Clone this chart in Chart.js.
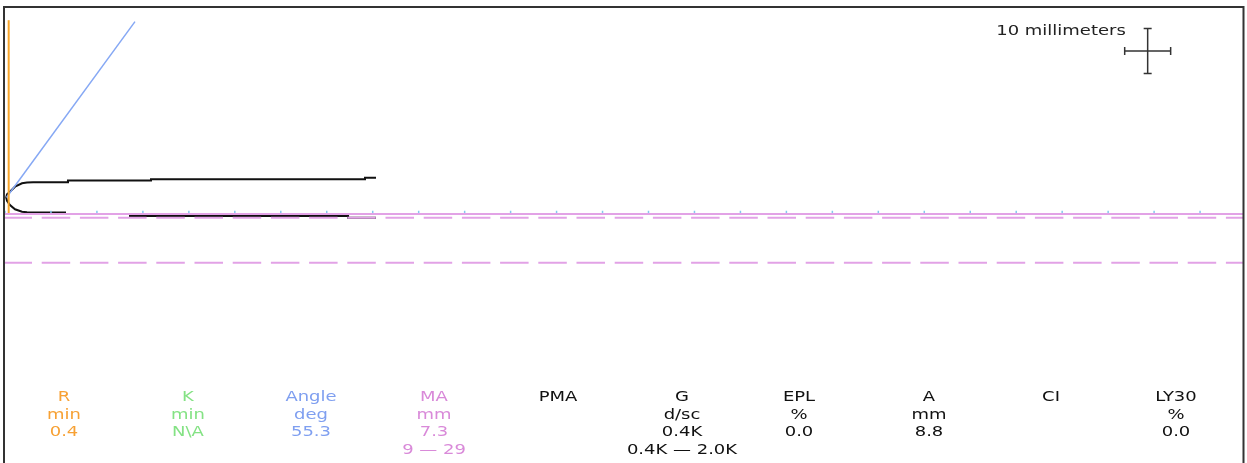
<!DOCTYPE html>
<html lang="en">
<head>
<meta charset="UTF-8">
<title>TEG tracing</title>
<script src="https://cdn.jsdelivr.net/npm/chart.js"></script>
<style>
  html, body { margin: 0; padding: 0; background: #fff; overflow: hidden; }
  canvas { display: block; }
</style>
</head>
<body>
<canvas id="canvas" width="1247" height="463"></canvas>
<script>
// trace (time in min, amplitude in mm, + up / - down from centre)
const traceTime = [40.36, 39.16, 39.16, 15.88, 15.88, 6.85, 6.85, 3.05, 2.39, 1.85, 1.09, 0.54, 0.22, 0.13,
                   0.22, 0.54, 1.09, 1.85, 2.39, 3.05, 6.53, 6.53, 13.6, 13.6, 37.32, 37.32, 40.36];
const traceAmp  = [4.40, 4.40, 4.07, 4.07, 3.78, 3.78, 3.38, 3.38, 3.32, 3.16, 2.40, 1.29, 0.70, 0,
                   -0.75, -1.67, -2.62, -3.16, -3.30, -3.36, -3.36, -3.67, -3.67, -4.11, -4.11, -4.49, -4.49];

// angle line
const angleTime = [0.16, 14.14];
const angleAmp = [0, 39.07];

// R marker
const rValue = 0.4;
const rTop = 39.4;

// MA and its normal range
const maValue = 7.3;
const maRange = [9, 29];

// time ticks (min)
const tickTimes = [0, 5, 10, 15, 20, 25, 30, 35, 40, 45, 50, 55, 60, 65, 70, 75, 80, 85, 90, 95,
                   100, 105, 110, 115, 120, 125, 130];

const timeMax = 134.67;
const ampMin = -59.0;
const ampMax = 42.33;

// scale bar: 10 mm each way
const barCentre = [124.3, 32.56];
const barMm = 10;
const barLabel = '10 millimeters';

// parameter table
const paramNames  = ['R', 'K', 'Angle', 'MA', 'PMA', 'G', 'EPL', 'A', 'CI', 'LY30'];
const paramUnits  = ['min', 'min', 'deg', 'mm', '', 'd/sc', '%', 'mm', '', '%'];
const paramValues = ['0.4', 'N\\A', '55.3', '7.3', '', '0.4K', '0.0', '8.8', '', '0.0'];
const paramRanges = ['', '', '', '9 \u2014 29', '', '0.4K \u2014 2.0K', '', '', '', ''];
const paramColors = ['#f7a134', '#84e284', '#7f9ff0', '#d98ad9', '#111', '#111', '#111', '#111', '#111', '#111'];
const colX = [64, 188, 311, 434, 558, 682, 799, 929, 1051, 1176];

const pink = '#e2a2e6';

function pts(xs, ys) {
    return xs.map((x, i) => ({ x: x, y: ys[i] }));
}

// draws text stretched sideways, like the wide printer font of the original
function wideText(ctx, txt, x, y, color) {
    ctx.save();
    ctx.translate(x, y);
    ctx.scale(1.24, 1);
    ctx.fillStyle = color;
    ctx.font = '14.5px "DejaVu Sans"';
    ctx.textAlign = 'center';
    ctx.textBaseline = 'middle';
    ctx.fillText(txt, 0, 0);
    ctx.restore();
}

const extras = {
    id: 'extras',
    afterDraw(chart) {
        const ctx = chart.ctx;
        const xs = chart.scales.x, ys = chart.scales.y;

        // frame (left, top, right)
        ctx.save();
        ctx.strokeStyle = '#333';
        ctx.lineWidth = 2;
        ctx.beginPath();
        ctx.moveTo(4, 463);
        ctx.lineTo(4, 7);
        ctx.lineTo(1243.5, 7);
        ctx.lineTo(1243.5, 463);
        ctx.stroke();

        // scale bar
        const cx = xs.getPixelForValue(barCentre[0]);
        const cy = ys.getPixelForValue(barCentre[1]);
        const hx = (xs.getPixelForValue(barCentre[0] + barMm / 4) - xs.getPixelForValue(barCentre[0] - barMm / 4)) / 2;
        const hy = (ys.getPixelForValue(barCentre[1] - barMm / 2) - ys.getPixelForValue(barCentre[1] + barMm / 2)) / 2;
        ctx.strokeStyle = '#333';
        ctx.lineWidth = 1.5;
        ctx.beginPath();
        ctx.moveTo(cx - hx, cy); ctx.lineTo(cx + hx, cy);
        ctx.moveTo(cx, cy - hy); ctx.lineTo(cx, cy + hy);
        ctx.moveTo(cx - hx, cy - 4); ctx.lineTo(cx - hx, cy + 4);
        ctx.moveTo(cx + hx, cy - 4); ctx.lineTo(cx + hx, cy + 4);
        ctx.moveTo(cx - 4, cy - hy); ctx.lineTo(cx + 4, cy - hy);
        ctx.moveTo(cx - 4, cy + hy); ctx.lineTo(cx + 4, cy + hy);
        ctx.stroke();
        ctx.restore();
        wideText(ctx, barLabel, 1061, 31, '#222');

        // parameter table
        const rows = [paramNames, paramUnits, paramValues, paramRanges];
        const rowY = [397, 415, 432.5, 450];
        for (let i = 0; i < paramNames.length; i++) {
            rows.forEach((r, j) => {
                if (r[i]) wideText(ctx, r[i], colX[i], rowY[j], paramColors[i]);
            });
        }
    }
};

const ctx = document.getElementById('canvas').getContext('2d');
const chart = new Chart(ctx, {
    type: 'line',
    data: {
        datasets: [
            {   // MA line
                data: pts([0, timeMax], [-maValue / 2, -maValue / 2]),
                borderColor: pink, borderWidth: 2
            },
            {   // MA range lower limit
                data: pts([0, timeMax], [-maRange[0] / 2, -maRange[0] / 2]),
                borderColor: pink, borderWidth: 2, borderDash: [28.5, 9.7], borderDashOffset: 1.5
            },
            {   // MA range upper limit
                data: pts([0, timeMax], [-maRange[1] / 2, -maRange[1] / 2]),
                borderColor: pink, borderWidth: 2, borderDash: [28.5, 9.7], borderDashOffset: 1.5
            },
            {   // time ticks
                data: pts(tickTimes, tickTimes.map(() => -3.3)),
                showLine: false, pointStyle: 'line', rotation: 90, pointRadius: 1.6,
                pointBorderColor: '#84c8ee', pointBorderWidth: 1.5
            },
            {   // R
                data: pts([rValue, rValue], [-maValue / 2, rTop]),
                borderColor: '#f7a52a', borderWidth: 2
            },
            {   // angle
                data: pts(angleTime, angleAmp),
                borderColor: '#86a8f4', borderWidth: 1.5
            },
            {   // trace
                data: pts(traceTime, traceAmp),
                borderColor: '#111', borderWidth: 2
            }
        ]
    },
    options: {
        responsive: false,
        maintainAspectRatio: false,
        devicePixelRatio: 1,
        animation: false,
        layout: { autoPadding: false, padding: { left: 5, right: 4, top: 7, bottom: 0 } },
        elements: { point: { radius: 0 }, line: { tension: 0, fill: false } },
        plugins: { legend: { display: false }, tooltip: { enabled: false } },
        scales: {
            x: { type: 'linear', min: 0, max: timeMax, display: false },
            y: { type: 'linear', min: ampMin, max: ampMax, display: false }
        }
    },
    plugins: [extras]
});
</script>
</body>
</html>
